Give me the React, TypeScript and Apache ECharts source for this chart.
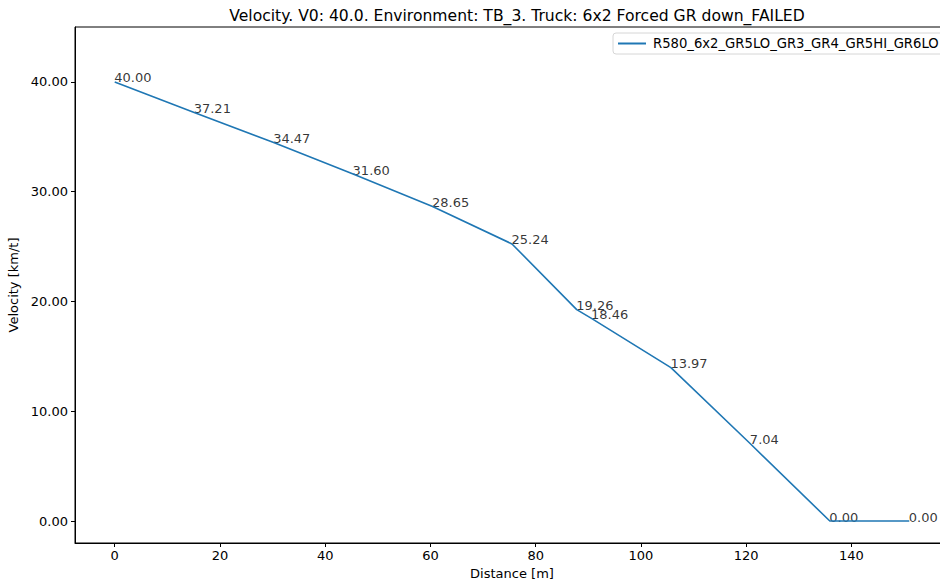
import React, { useEffect, useRef } from "react";
import * as echarts from "echarts";

const distances = [0, 15.1, 30.2, 45.3, 60.4, 75.5, 87.8, 90.6, 105.7, 120.8, 135.9, 151];
const velocities = [40.0, 37.21, 34.47, 31.6, 28.65, 25.24, 19.26, 18.46, 13.97, 7.04, 0.0, 0.0];
const xTicks = [0, 20, 40, 60, 80, 100, 120, 140];
const yTicks = [0, 10, 20, 30, 40];
const seriesName = "R580_6x2_GR5LO_GR3_GR4_GR5HI_GR6LO";
const titleText = "Velocity. V0: 40.0. Environment: TB_3. Truck: 6x2 Forced GR down_FAILED";

const FONT = "DejaVu Sans";

export default function App() {
  const ref = useRef<HTMLDivElement>(null);
  useEffect(() => {
    if (!ref.current) return;
    const chart = echarts.init(ref.current, undefined, { renderer: "svg" });
    const points = distances.map((d, i) => [d, velocities[i]]);
    chart.setOption({
      animation: false,
      backgroundColor: "#ffffff",
      title: {
        text: titleText,
        left: 512,
        textAlign: "center",
        top: 3,
        textStyle: { fontFamily: FONT, fontSize: 15.6, fontWeight: "normal", color: "#000" },
      },
      legend: {
        data: [seriesName],
        left: 613,
        top: 33,
        icon: "rect",
        itemWidth: 28,
        itemHeight: 2,
        itemGap: 10,
        padding: [4, 20, 4, 5],
        borderColor: "#d6d6d6",
        borderWidth: 1,
        borderRadius: 3,
        backgroundColor: "rgba(255,255,255,0.8)",
        textStyle: { fontFamily: FONT, fontSize: 13.2, color: "#000", padding: [0, 0, 0, 2] },
      },
      grid: {
        left: 75,
        right: -9,
        top: 27,
        bottom: 39,
        show: true,
        borderColor: "#000",
        borderWidth: 1,
        outerBoundsMode: "none",
        containLabel: false,
      },
      xAxis: {
        type: "value",
        min: -7.55,
        max: 158.55,
        name: "Distance [m]",
        nameLocation: "middle",
        nameGap: 22,
        nameTextStyle: { fontFamily: FONT, fontSize: 13, color: "#000" },
        axisLine: { onZero: false, lineStyle: { color: "#000", width: 1 } },
        axisTick: { show: true, length: 4, customValues: xTicks, lineStyle: { color: "#000" } },
        axisLabel: { customValues: xTicks, fontFamily: FONT, fontSize: 13, color: "#000", margin: 6 },
        splitLine: { show: false },
      },
      yAxis: {
        type: "value",
        min: -2,
        max: 45,
        name: "Velocity [km/t]",
        nameLocation: "middle",
        nameGap: 52,
        nameTextStyle: { fontFamily: FONT, fontSize: 13, color: "#000" },
        axisLine: { show: true, onZero: false, lineStyle: { color: "#000", width: 1 } },
        axisTick: { show: true, length: 4, customValues: yTicks, lineStyle: { color: "#000" } },
        axisLabel: {
          customValues: yTicks,
          fontFamily: FONT,
          fontSize: 13,
          color: "#000",
          margin: 7,
          formatter: (v: number) => v.toFixed(2),
        },
        splitLine: { show: false },
      },
      series: [
        {
          name: seriesName,
          type: "line",
          data: points,
          symbol: "none",
          lineStyle: { color: "#1f77b4", width: 1.6 },
          itemStyle: { color: "#1f77b4" },
        },
        {
          name: "labels",
          type: "scatter",
          data: points,
          symbolSize: 1,
          itemStyle: { color: "rgba(0,0,0,0)" },
          label: {
            show: true,
            position: [0, 0],
            align: "left",
            verticalAlign: "bottom",
            offset: [0, 3],
            fontFamily: FONT,
            fontSize: 13,
            color: "#000",
            formatter: (p: any) => (p.value[1] as number).toFixed(2),
          },
          silent: true,
        },
      ],
    });
    return () => chart.dispose();
  }, []);
  return <div ref={ref} style={{ position: "fixed", left: 0, top: 0, width: 940, height: 582 }} />;
}
